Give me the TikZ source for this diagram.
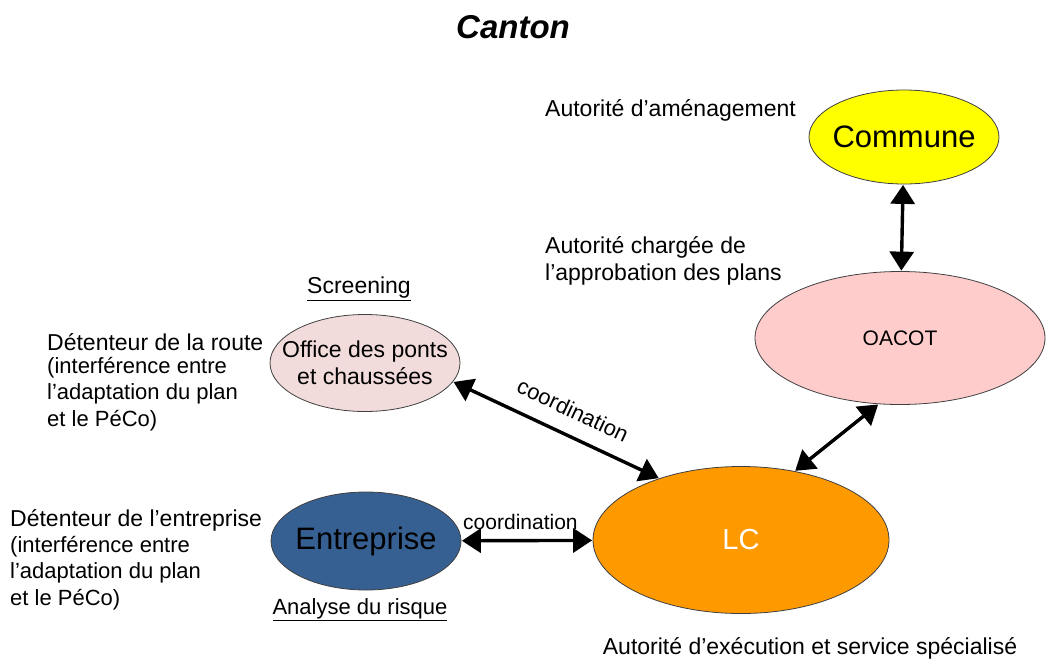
\documentclass[tikz,border=0pt]{standalone}
\usepackage{fontspec}
\setmainfont{Liberation Sans}
\usetikzlibrary{arrows.meta,shapes.geometric}
\definecolor{commune}{HTML}{FFFF00}
\definecolor{oacot}{HTML}{FFCCCC}
\definecolor{office}{HTML}{F2DCDB}
\definecolor{entr}{HTML}{376092}
\definecolor{lcorange}{HTML}{FF9900}
\tikzset{
  blob/.style={ellipse, draw=black!75, line width=0.8pt, inner sep=0pt},
  inside/.style={inner sep=0pt, align=center},
  link/.style={line width=3.4pt, {Triangle[length=19pt,width=24pt]}-{Triangle[length=19pt,width=24pt]}, shorten <=0.5pt, shorten >=0.5pt},
  lbl/.style={inner sep=0pt, align=left, anchor=west, font=\fontsize{22}{26.5}\selectfont},
  big/.style={font=\fontsize{23}{27}\selectfont}
}
\begin{document}
\begin{tikzpicture}[x=1pt,y=-1pt]
\useasboundingbox (0,0) rectangle (1046,659);
% title
\node[font=\fontsize{33}{36}\selectfont\bfseries\itshape] (title) at (513,27) {Canton};
% ellipses
\node[blob, fill=commune, minimum width=190pt, minimum height=94pt] (commune) at (904,137) {};
\node[inside, font=\fontsize{31}{34}\selectfont] (communet) at (commune) {Commune};
\node[blob, fill=oacot, minimum width=290pt, minimum height=133pt] (oacot) at (900,338) {};
\node[inside, font=\fontsize{21}{24}\selectfont] (oacott) at (oacot) {OACOT};
\node[blob, fill=office, minimum width=190pt, minimum height=97pt] (office) at (365,363) {};
\node[inside, font=\fontsize{23}{27}\selectfont] (officet) at (office) {Office des ponts\\et chaussées};
\node[blob, fill=entr, minimum width=190pt, minimum height=98pt] (entr) at (366,541) {};
\node[inside, font=\fontsize{31}{34}\selectfont] (entrt) at (entr) {Entreprise};
\node[blob, fill=lcorange, minimum width=296pt, minimum height=147pt] (lc) at (741,540) {};
\node[inside, text=white, font=\fontsize{29}{32}\selectfont] (lct) at (lc) {LC};
% connectors
\draw[link] (commune) -- (oacot);
\draw[link] (office.-12) -- (lc.143) node[pos=0.53, above, sloped, yshift=12pt, font=\fontsize{22}{25}\selectfont] (c1) {coordination};
\draw[link] (entr) -- (lc) node[pos=0.45, above, yshift=6pt, font=\fontsize{21}{24}\selectfont] (c2) {coordination};
\draw[link] (oacot.-108) -- (lc.52);
% labels
\node[lbl, big] (t1) at (545,110) {Autorité d’aménagement};
\node[lbl, big, align=left, anchor=north west] (t2) at (545,236) {Autorité chargée de\\l’approbation des plans};
\node[big, inner sep=0pt] (scr) at (359,289) {\underline{Screening}};
\node[lbl, big] (d1) at (47,342) {Détenteur de la route};
\node[lbl, anchor=north west] (d1b) at (47,357) {(interférence entre\\l’adaptation du plan\\et le PéCo)};
\node[lbl, big] (d2) at (10,520) {Détenteur de l’entreprise};
\node[lbl, anchor=north west] (d2b) at (10,536) {(interférence entre\\l’adaptation du plan\\et le PéCo)};
\node[font=\fontsize{22}{26}\selectfont, inner sep=0pt] (ana) at (360,610) {\underline{Analyse du risque}};
\node[big, inner sep=0pt] (exe) at (810,648) {Autorité d’exécution et service spécialisé};
\end{tikzpicture}
\end{document}
